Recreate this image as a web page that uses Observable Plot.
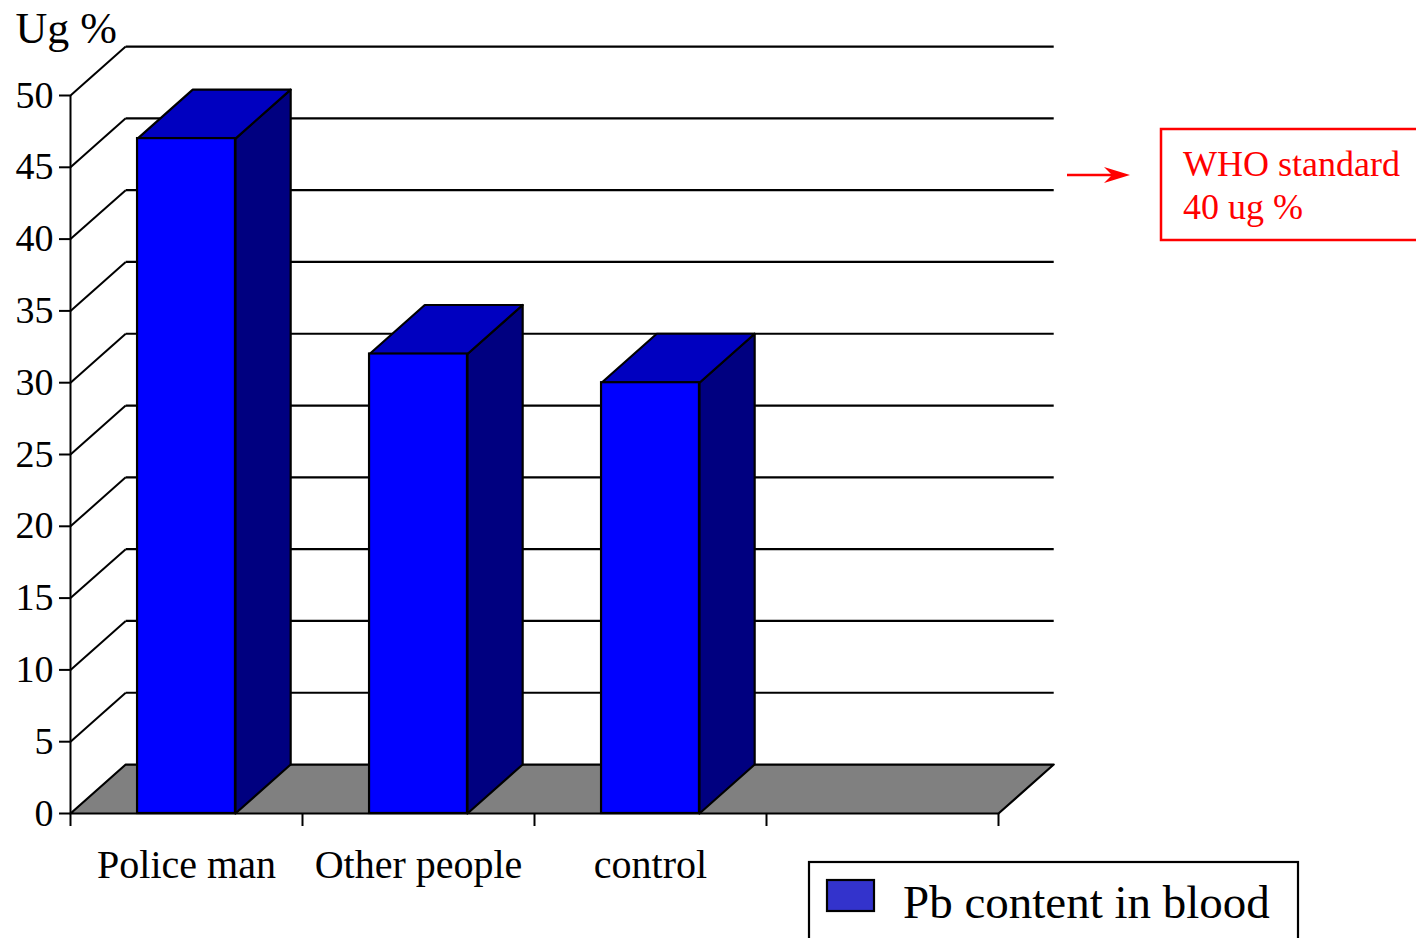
<!DOCTYPE html>
<html><head><meta charset="utf-8">
<script src="https://cdn.jsdelivr.net/npm/d3@7"></script>
<script src="https://cdn.jsdelivr.net/npm/@observablehq/plot@0.6"></script>
<style>
body{margin:0;background:#fff;overflow:hidden}
#chart{position:relative;width:1416px;height:938px}
</style>
</head><body><div id="chart"></div>
<script>
// ---- data ----
const categories = ["Police man", "Other people", "control"];
const values = [47, 32, 30];
const slotCount = 4;
const yTicks = [0, 5, 10, 15, 20, 25, 30, 35, 40, 45, 50];
const xTicks = [0, 1, 2, 3, 4];
const yLabel = "Ug %";
const seriesName = "Pb content in blood";
const whoNote = ["WHO standard", "40 ug %"];

// ---- 3D projection in data units ----
const DX = 0.238, DY = 3.41, BAR0 = 0.289, BAR1 = 0.711;

const bars = values.map((v, i) => ({i, v, x1: i + BAR0, x2: i + BAR1}));
const tops = bars.flatMap(b => [[b.x1, b.v], [b.x1 + DX, b.v + DY], [b.x2 + DX, b.v + DY], [b.x2, b.v]]
  .map(([x, y]) => ({id: b.i, x, y})));
const sides = bars.flatMap(b => [[b.x2, 0], [b.x2, b.v], [b.x2 + DX, b.v + DY], [b.x2 + DX, DY]]
  .map(([x, y]) => ({id: b.i, x, y})));
const floor = [[0, 0], [slotCount, 0], [slotCount + DX, DY], [DX, DY]].map(([x, y]) => ({x, y}));
const gridVals = yTicks.filter(t => t > 0);
const yMax = yTicks[yTicks.length - 1];

const plot = Plot.plot({
  width: 1416, height: 938,
  marginLeft: 70, marginRight: 418, marginTop: 95, marginBottom: 125,
  style: {fontFamily: "'Liberation Serif', 'Times New Roman', serif", color: "black", background: "white"},
  x: {domain: [0, slotCount], axis: null},
  y: {domain: [0, yMax], axis: null},
  marks: [
    // back wall gridlines
    Plot.link(gridVals, {x1: DX, x2: slotCount + DX, y1: d => d + DY, y2: d => d + DY, stroke: "black", strokeWidth: 2.2}),
    // side wall diagonals
    Plot.link(gridVals, {x1: 0, x2: DX, y1: d => d, y2: d => d + DY, stroke: "black", strokeWidth: 2}),
    // floor
    Plot.line(floor, {x: "x", y: "y", curve: "linear-closed", fill: "#808080", stroke: "black", strokeWidth: 2.2}),
    // axes
    Plot.ruleX([0], {y1: 0, y2: yMax, stroke: "black", strokeWidth: 2}),
    Plot.axisY(yTicks, {tickSize: 11, tickPadding: 6, fontSize: 38, strokeWidth: 2, label: null}),
    Plot.axisX(xTicks, {tickSize: 13, tickFormat: () => "", strokeWidth: 2, label: null}),
    // bars
    Plot.line(sides, {x: "x", y: "y", z: "id", curve: "linear-closed", fill: "#000080", stroke: "black", strokeWidth: 2.2}),
    Plot.line(tops, {x: "x", y: "y", z: "id", curve: "linear-closed", fill: "#0000c0", stroke: "black", strokeWidth: 2.2}),
    Plot.rect(bars, {x1: "x1", x2: "x2", y1: 0, y2: "v", fill: "#0000ff", stroke: "black", strokeWidth: 2.2}),
    // category labels
    Plot.text(categories, {x: (d, i) => i + 0.5, y: 0, dy: 52, text: d => d, fontSize: 40, fill: "black"}),
    // y label
    Plot.text([yLabel], {x: 0, y: yMax, dx: -55, dy: -67, text: d => d, textAnchor: "start", fontSize: 44, fill: "black"})
  ]
});

document.getElementById("chart").appendChild(plot);

// ---- legend and annotation ----
const svg = d3.select(plot);
const g = svg.append("g")
  .attr("font-family", "'Liberation Serif', 'Times New Roman', serif")
  .attr("text-anchor", "start");
// legend
g.append("rect").attr("x", 809).attr("y", 862).attr("width", 489).attr("height", 130)
  .attr("fill", "white").attr("stroke", "black").attr("stroke-width", 2.2);
g.append("rect").attr("x", 827).attr("y", 880).attr("width", 47).attr("height", 31)
  .attr("fill", "#3333cc").attr("stroke", "black").attr("stroke-width", 2.2);
g.append("text").attr("x", 903).attr("y", 918).attr("text-anchor", "start")
  .attr("font-size", 47).attr("fill", "black").text(seriesName);
// WHO annotation
g.append("rect").attr("x", 1161).attr("y", 129).attr("width", 300).attr("height", 111)
  .attr("fill", "none").attr("stroke", "red").attr("stroke-width", 2.5);
whoNote.forEach((t, i) => g.append("text").attr("x", 1183).attr("y", 176 + i * 43)
  .attr("text-anchor", "start").attr("font-size", 36).attr("fill", "red").text(t));
g.append("line").attr("x1", 1067).attr("x2", 1115).attr("y1", 175).attr("y2", 175)
  .attr("stroke", "red").attr("stroke-width", 2.5);
g.append("path").attr("d", "M1130,175 L1104,167 L1112,175 L1104,183 Z").attr("fill", "red");
</script>
</body></html>
